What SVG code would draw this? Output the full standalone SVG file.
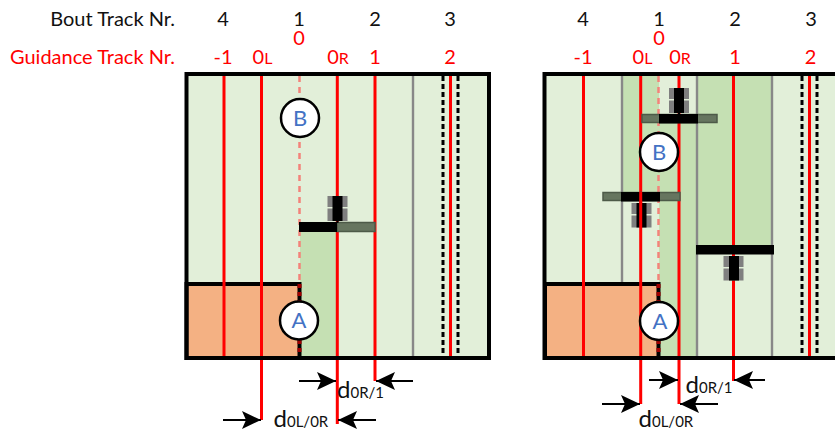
<svg xmlns="http://www.w3.org/2000/svg" width="835" height="429" viewBox="0 0 835 429">
<style>
text{font-family:Lato,"Open Sans",sans-serif;font-size:20px;text-anchor:middle}
.k{fill:#111}.r{fill:#f00}
.e{text-anchor:end}
.s{font-size:16px}
.lbl{fill:#4472c4;font-size:22px}
.dim{font-size:24px;text-anchor:start}
.sub{font-size:15px}
.red{stroke:#f00;stroke-width:3;fill:none}
.gray{stroke:#888;stroke-width:2.4;fill:none}
.dot{stroke:#000;stroke-width:3;stroke-dasharray:5 3;fill:none}
.sal{stroke:#f4827a;stroke-width:2.5;stroke-dasharray:6 5;fill:none}
.frame{fill:none;stroke:#000;stroke-width:4}
.light{fill:#e2efd9}.dark{fill:#c5e0b3}
.orange{fill:#f4b183;stroke:#000;stroke-width:4}
.circ{fill:#fff;stroke:#000;stroke-width:2.5}
.wheel{fill:#7f7f7f}
.impl{fill:#66755f;stroke:#4d5a48;stroke-width:1.5}
.arr{stroke:#000;stroke-width:2;fill:none;marker-end:url(#ah)}
</style>
<defs>
<marker id="ah" markerUnits="userSpaceOnUse" markerWidth="20" markerHeight="20" refX="19" refY="9" orient="auto">
<path d="M0 0L19 9L0 18L4 9Z" fill="#000"/>
</marker>
<g id="tractor-up">
<rect class="wheel" x="-10" y="0" width="20" height="11"/>
<rect class="wheel" x="-10" y="12.500" width="20" height="12.500"/>
<rect x="-5" y="0" width="10" height="25" fill="#000"/>
<rect x="-1" y="24" width="2" height="3" fill="#000"/>
</g>
</defs>

<g id="labels-left">
<text class="k e" x="175" y="26">Bout Track Nr.</text>
<text class="r e" x="175" y="64">Guidance Track Nr.</text>
<text class="k" x="223" y="26">4</text><text class="k" x="299" y="26">1</text><text class="k" x="375" y="26">2</text><text class="k" x="450" y="26">3</text>
<text class="r" x="299" y="45">0</text>
<text class="r" x="223" y="64">-1</text>
<text class="r" x="262.500" y="64">0<tspan class="s">L</tspan></text>
<text class="r" x="338" y="64">0<tspan class="s">R</tspan></text>
<text class="r" x="375" y="64">1</text><text class="r" x="450" y="64">2</text>
</g>
<g id="labels-right">
<text class="k" x="583" y="26">4</text><text class="k" x="659" y="26">1</text><text class="k" x="735" y="26">2</text><text class="k" x="811" y="26">3</text>
<text class="r" x="659" y="45">0</text>
<text class="r" x="583" y="64">-1</text>
<text class="r" x="642.500" y="64">0<tspan class="s">L</tspan></text>
<text class="r" x="680" y="64">0<tspan class="s">R</tspan></text>
<text class="r" x="735" y="64">1</text><text class="r" x="810.500" y="64">2</text>
</g>

<g id="field-left">
<rect class="light" x="186" y="74" width="303" height="284"/>
<rect class="dark" x="300" y="232" width="37" height="126"/>
<path class="gray" d="M413 74V358"/>
<path class="dot" d="M443 76V358M458 76V358"/>
<path class="sal" d="M299.500 76V283"/>
<rect class="orange" x="186.500" y="284" width="113" height="74"/>
<path d="M299.500 284V358" stroke="#a00000" stroke-width="4" stroke-dasharray="4 4" fill="none"/>
</g>
<g id="field-right">
<rect class="light" x="544" y="74" width="293" height="284"/>
<rect class="dark" x="622" y="74" width="37" height="121"/>
<rect class="dark" x="659" y="120" width="38" height="238"/>
<rect class="dark" x="697" y="74" width="75" height="174"/>
<path class="gray" d="M622 74V283M697 74V358M772 74V358"/>
<path class="dot" d="M802 76V358M817 76V358"/>
<path class="sal" d="M658.500 76V283"/>
<rect class="orange" x="545" y="284" width="113.500" height="74"/>
<path d="M658.500 284V358" stroke="#a00000" stroke-width="4" stroke-dasharray="4 4" fill="none"/>
</g>

<g id="connectors">
<path class="red" d="M224 74V358M261.500 74V420M337.300 74V424M375 74V381M450.500 74V358"/>
<path class="red" d="M583.500 74V358M640.700 74V404M679 74V404M733.500 74V381M809.500 74V358"/>
<path class="arr" d="M299 381H336"/>
<path class="arr" d="M413 381H376"/>
<path class="arr" d="M223 420H261"/>
<path class="arr" d="M376 420H338"/>
<path class="arr" d="M649 380H678"/>
<path class="arr" d="M765 380H734"/>
<path class="arr" d="M602 404H640"/>
<path class="arr" d="M718 404H680"/>
</g>

<g id="frames">
<rect class="frame" x="186.500" y="74" width="302.500" height="284"/>
<path class="frame" d="M838 74H544.500V358H838"/>
</g>

<g id="tractor-left">
<rect class="impl" x="337" y="222.500" width="38" height="9"/>
<rect x="299" y="222" width="38" height="10" fill="#000"/>
<use href="#tractor-up" x="337.500" y="196"/>
</g>
<g id="tractor-right-top">
<rect class="impl" x="642" y="114.500" width="75" height="8"/>
<rect x="659" y="114" width="39" height="9.500" fill="#000"/>
<use href="#tractor-up" x="679" y="88"/>
</g>
<g id="tractor-right-left">
<rect class="impl" x="603" y="192.500" width="77" height="8"/>
<rect x="621" y="192" width="39" height="9.500" fill="#000"/>
<rect class="wheel" x="631.500" y="203" width="20" height="11"/>
<rect class="wheel" x="631.500" y="215.500" width="20" height="12"/>
<rect x="636.500" y="203" width="10" height="24.500" fill="#000"/>
<path class="red" d="M640.700 192V228"/>
</g>
<g id="tractor-right-mid">
<rect x="696" y="245" width="78" height="9.500" fill="#000"/>
<rect class="wheel" x="723.500" y="256" width="20" height="11"/>
<rect class="wheel" x="723.500" y="268.500" width="20" height="12"/>
<rect x="729" y="256" width="10" height="24.500" fill="#000"/>
</g>

<g id="node-b-left"><circle class="circ" cx="300" cy="118" r="19"/><text class="lbl" x="300" y="125.500">B</text></g>
<g id="node-a-left"><circle class="circ" cx="299" cy="320.500" r="19"/><text class="lbl" x="299" y="328">A</text></g>
<g id="node-b-right"><circle class="circ" cx="659" cy="152" r="19"/><text class="lbl" x="659" y="159.500">B</text></g>
<g id="node-a-right"><circle class="circ" cx="659" cy="321" r="19"/><text class="lbl" x="660" y="328.500">A</text></g>

<g id="dims">
<text class="k dim" x="337" y="398">d<tspan class="sub">0R/1</tspan></text>
<text class="k dim" x="273.500" y="427">d<tspan class="sub">0L/0R</tspan></text>
<text class="k dim" x="685.500" y="392.500">d<tspan class="sub">0R/1</tspan></text>
<text class="k dim" x="638.500" y="427">d<tspan class="sub">0L/0R</tspan></text>
</g>
</svg>
